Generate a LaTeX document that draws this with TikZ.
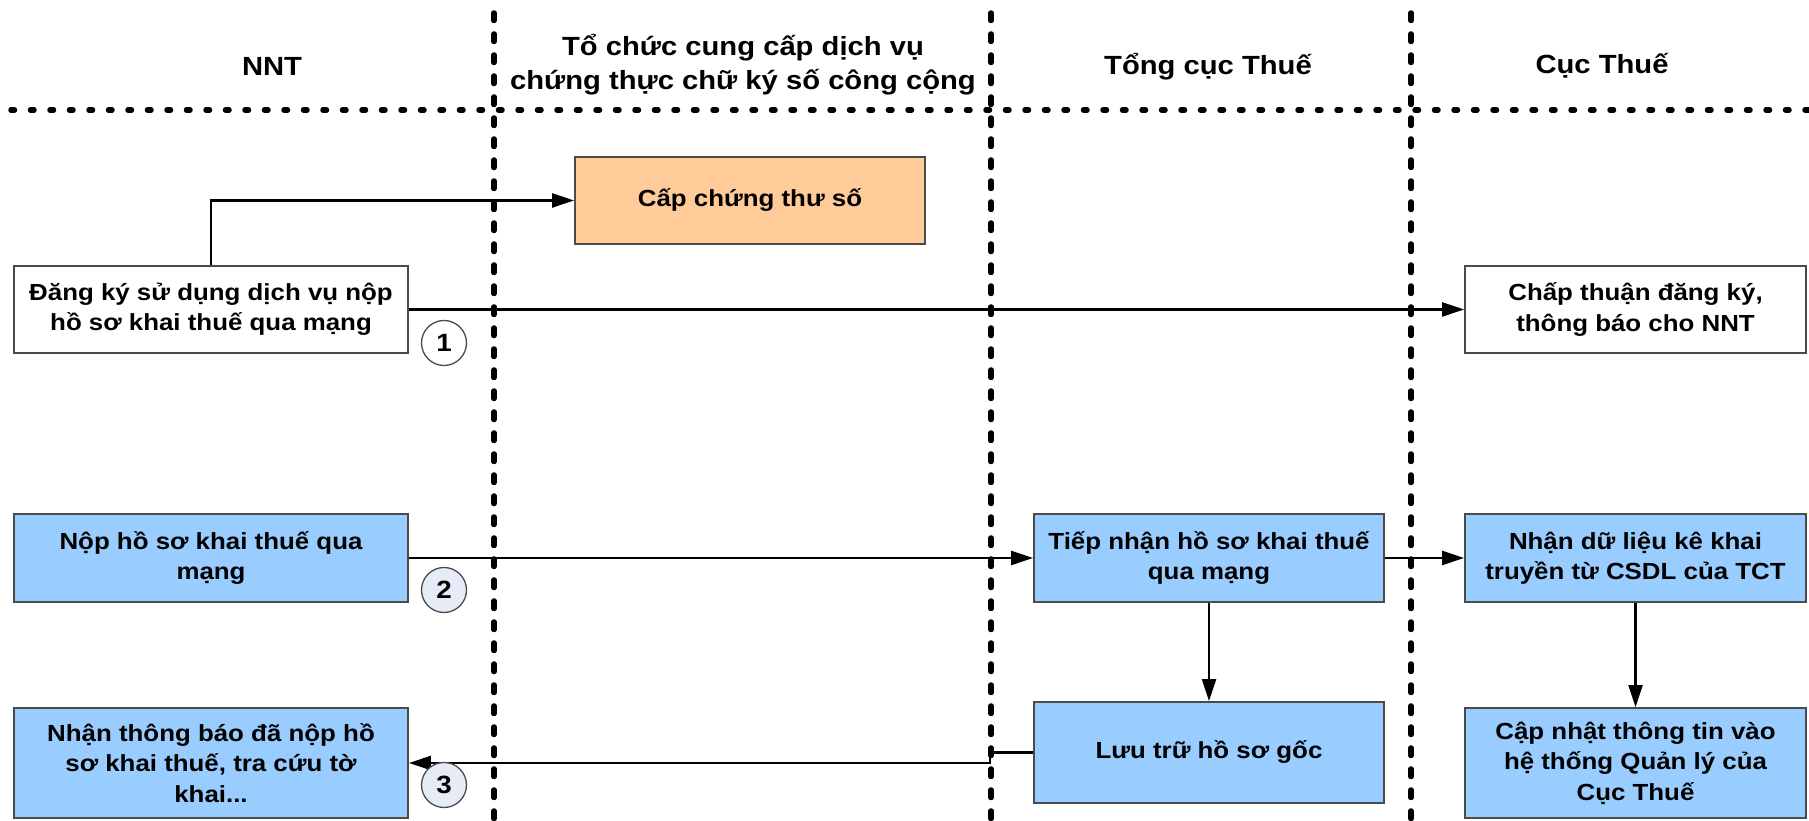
\documentclass[tikz,border=0pt]{standalone}
\usepackage{fontspec}
\setmainfont{Liberation Sans}[FakeStretch=1.11]
\usetikzlibrary{arrows.meta}
\definecolor{orangefill}{HTML}{FFCC99}
\definecolor{bluefill}{HTML}{99CCFF}
\definecolor{edgegray}{HTML}{4A4A4A}
\definecolor{circfill}{HTML}{E6ECF7}
\begin{document}
\begin{tikzpicture}[x=1pt,y=1pt,
  box/.style={draw=edgegray, line width=1.8pt, inner sep=0pt, align=center,
    font={\fontsize{23.3}{30.5}\selectfont\bfseries}},
  whitebox/.style={box, fill=white},
  bluebox/.style={box, fill=bluefill},
  orangebox/.style={box, fill=orangefill},
  header/.style={inner sep=0pt, align=center, font={\fontsize{26.3}{34}\selectfont\bfseries}},
  lane/.style={line width=5.5pt, line cap=round, dash pattern=on 7.5pt off 13.5pt},
  rowline/.style={line width=5.5pt, line cap=round, dash pattern=on 3.5pt off 16pt},
  conn/.style={line width=2.2pt, -{Triangle[length=22pt,width=14pt]}},
  numcircle/.style={circle, draw=edgegray, line width=1.3pt, minimum size=45pt, inner sep=0pt,
    font={\fontsize{25}{28}\selectfont\bfseries}},
]
\useasboundingbox (0,0) rectangle (1809,821);
\fill[white] (0,0) rectangle (1809,821);

% swimlane separators
\draw[rowline] (11,711) -- (1809,711);
\draw[lane] (494,808) -- (494,0);
\draw[lane] (991,808) -- (991,0);
\draw[lane] (1411,808) -- (1411,0);

% headers
\node[header] (hNNT) at (272,755) {NNT};
\node[header] (hTC) at (743,756) {Tổ chức cung cấp dịch vụ\\chứng thực chữ ký số công cộng};
\node[header] (hTCT) at (1208,754) {Tổng cục Thuế};
\node[header] (hCT) at (1602,755) {Cục Thuế};

% boxes
\node[whitebox, minimum width=394pt, minimum height=87pt] (b1) at (211,511.5)
  {Đăng ký sử dụng dịch vụ nộp\\hồ sơ khai thuế qua mạng};
\node[orangebox, minimum width=350pt, minimum height=87pt] (b2) at (750,620.5)
  {Cấp chứng thư số};
\node[whitebox, minimum width=341pt, minimum height=87pt] (b3) at (1635.5,511.5)
  {Chấp thuận đăng ký,\\thông báo cho NNT};
\node[bluebox, minimum width=394pt, minimum height=88pt] (b4) at (211,263)
  {Nộp hồ sơ khai thuế qua\\mạng};
\node[bluebox, minimum width=394pt, minimum height=110pt] (b5) at (211,58)
  {Nhận thông báo đã nộp hồ\\sơ khai thuế, tra cứu tờ\\khai...};
\node[bluebox, minimum width=350pt, minimum height=88pt] (b6) at (1209,263)
  {Tiếp nhận hồ sơ khai thuế\\qua mạng};
\node[bluebox, minimum width=350pt, minimum height=101pt] (b7) at (1209,68.5)
  {Lưu trữ hồ sơ gốc};
\node[bluebox, minimum width=341pt, minimum height=88pt] (b8) at (1635.5,263)
  {Nhận dữ liệu kê khai\\truyền từ CSDL của TCT};
\node[bluebox, minimum width=341pt, minimum height=110pt] (b9) at (1635.5,58)
  {Cập nhật thông tin vào\\hệ thống Quản lý của\\Cục Thuế};

% connectors
\draw[conn] (b1.north) |- (b2.west);
\draw[conn] (b1.east) -- (b3.west);
\draw[conn] (b4.east) -- (b6.west);
\draw[conn] (b6.east) -- (b8.west);
\draw[conn] (b6.south) -- (b7.north);
\draw[conn] (b8.south) -- (b9.north);
\coordinate (jog) at (990,68.5);
\draw[conn] (b7.west) -- (jog) |- (b5.east);

% step numbers
\node[numcircle, fill=white] (n1) at (444,478) {1};
\node[numcircle, fill=circfill] (n2) at (444,231) {2};
\node[numcircle, fill=circfill] (n3) at (444,36) {3};
\end{tikzpicture}
\end{document}
